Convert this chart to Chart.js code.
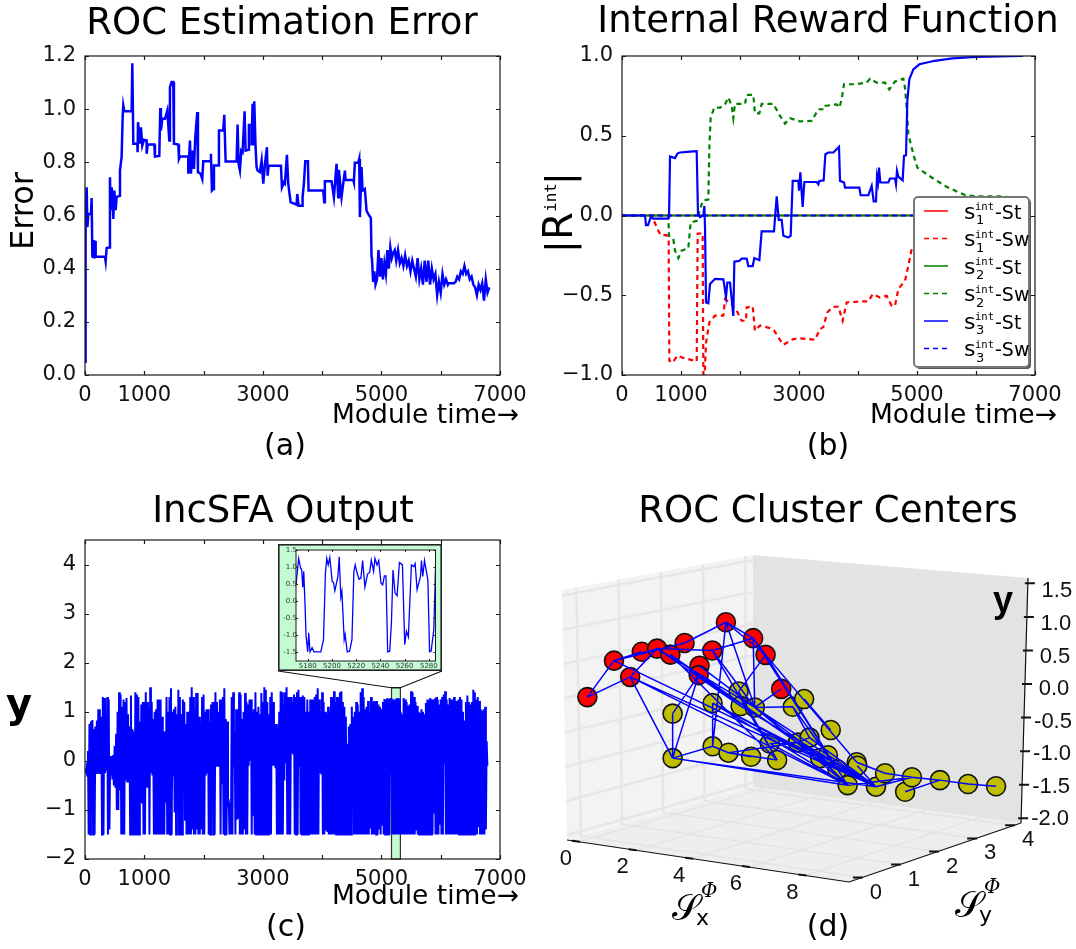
<!DOCTYPE html>
<html><head><meta charset="utf-8">
<script src="https://cdn.jsdelivr.net/npm/chart.js@4/dist/chart.umd.min.js"></script>
<style>
html,body{margin:0;padding:0;background:#fff;width:1076px;height:949px;overflow:hidden}
canvas{position:absolute;display:block}
</style></head><body>
<canvas id="a" width="564" height="470" style="left:0;top:0"></canvas>
<canvas id="b" width="596" height="470" style="left:530px;top:0"></canvas>
<canvas id="c" width="566" height="469" style="left:0;top:480px"></canvas>
<canvas id="d" width="596" height="469" style="left:530px;top:480px"></canvas>
<canvas id="inset" width="164" height="127" style="left:278px;top:544px"></canvas>
<script>
/* ---------- panel (a) ---------- */
const timeTicks = [0,1000,3000,5000,7000];
const rocError = [[0,.05],[5,.35],[10,.45],[15,.6],[28,.706],[40,.556],[56,.606],[101,.606],[112,.666],[124,.445],[152,.443],[152,.503],[180,.5],[180,.445],[337,.445],[348,.428],[365,.478],[410,.48],[421,.744],[433,.62],[450,.706],[467,.656],[478,.587],[495,.694],[517,.62],[534,.67],[590,.674],[590,.77],[618,.82],[635,.97],[646,1.014],[663,.992],[787,.992],[798,1.173],[815,.87],[882,.87],[888,.838],[894,.951],[927,.87],[944,.932],[966,.863],[995,.885],[1040,.882],[1040,.832],[1057,.867],[1169,.867],[1180,.822],[1253,.824],[1270,1.004],[1281,.92],[1304,.964],[1349,.964],[1388,.995],[1422,.882],[1433,1.083],[1461,1.102],[1489,1.102],[1500,.87],[1574,.867],[1585,.813],[1602,.822],[1742,.822],[1742,.757],[1770,.882],[1787,.757],[1815,.844],[1838,.775],[1860,.895],[1894,.989],[1905,.763],[1950,.757],[1978,.738],[1995,.804],[2119,.804],[2124,.832],[2141,.694],[2164,.7],[2175,.788],[2248,.788],[2259,.92],[2332,.92],[2349,.979],[2372,.803],[2557,.803],[2574,.942],[2591,.794],[2613,.769],[2636,.844],[2658,.838],[2692,.992],[2709,.844],[2754,.847],[2765,.94],[2810,.94],[2810,.863],[2827,1.02],[2838,.863],[2855,1.03],[2877,.857],[2894,.782],[2911,.769],[2950,.763],[2979,.807],[3007,.72],[3035,.794],[3069,.857],[3080,.75],[3097,.787],[3305,.787],[3322,.706],[3355,.725],[3372,.72],[3406,.828],[3428,.72],[3468,.65],[3569,.641],[3580,.681],[3603,.637],[3670,.637],[3670,.669],[3692,.72],[3715,.804],[3760,.804],[3771,.694],[4018,.694],[4035,.65],[4046,.729],[4158,.729],[4175,.706],[4198,.669],[4243,.794],[4271,.669],[4282,.772],[4327,.669],[4384,.769],[4395,.734],[4524,.734],[4535,.725],[4552,.798],[4608,.798],[4625,.813],[4637,.594],[4664,.782],[4681,.694],[4720,.7],[4749,.618],[4777,.606],[4822,.59],[4833,.443],[4840,.44],[4860,.35],[4880,.39],[4900,.34],[4925,.36],[4950,.47],[4975,.37],[5000,.44],[5025,.36],[5050,.42],[5075,.38],[5100,.47],[5125,.4],[5150,.48],[5175,.44],[5200,.46],[5225,.47],[5250,.43],[5280,.47],[5310,.42],[5340,.44],[5370,.41],[5400,.45],[5430,.41],[5460,.43],[5490,.39],[5520,.43],[5550,.4],[5580,.37],[5610,.44],[5640,.36],[5670,.4],[5700,.34],[5730,.43],[5760,.35],[5790,.43],[5820,.34],[5850,.4],[5880,.36],[5910,.38],[5940,.3],[5970,.35],[6000,.31],[6030,.38],[6060,.34],[6090,.36],[6120,.34],[6130,.345],[6220,.345],[6250,.35],[6280,.37],[6310,.36],[6340,.39],[6370,.38],[6400,.41],[6430,.38],[6460,.39],[6490,.36],[6520,.37],[6550,.34],[6580,.33],[6610,.3],[6640,.34],[6670,.32],[6700,.345],[6730,.28],[6760,.36],[6790,.31],[6820,.33]];

/* ---------- panel (b) ---------- */
const zeroLine = [[0,0],[6800,0]];
const s1Switch = [[0,0],[503,0],[616,-.096],[655,-.123],[757,-.123],[791,-.159],[802,-.91],[859,-.923],[938,-.879],[1040,-.893],[1266,-.914],[1283,-.113],[1367,-.113],[1379,-.994],[1400,-1],[1424,-.8],[1480,-.67],[1576,-.628],[1718,-.628],[1746,-.524],[1859,-.555],[1944,-.597],[2028,-.66],[2102,-.66],[2113,-.576],[2215,-.57],[2254,-.722],[2339,-.69],[2509,-.706],[2576,-.72],[2650,-.764],[2735,-.81],[2904,-.775],[3017,-.77],[3271,-.779],[3356,-.712],[3412,-.7],[3480,-.607],[3582,-.572],[3667,-.572],[3740,-.66],[3808,-.545],[4062,-.539],[4175,-.539],[4249,-.493],[4373,-.514],[4486,-.503],[4571,-.566],[4627,-.566],[4684,-.461],[4797,-.409],[4853,-.315],[4910,-.21],[5000,-.15],[5300,-.1],[6800,-.02]];
const s2Switch = [[0,0],[785,0],[797,-.127],[870,-.148],[898,-.22],[955,-.267],[1011,-.22],[1124,-.205],[1164,-.044],[1266,-.033],[1350,.07],[1379,.096],[1463,.1],[1480,.426],[1503,.614],[1565,.676],[1661,.676],[1746,.697],[1802,.74],[1859,.687],[1887,.61],[1915,.7],[2085,.7],[2113,.756],[2226,.756],[2254,.64],[2328,.64],[2367,.7],[2565,.7],[2678,.624],[2763,.576],[2848,.61],[3017,.59],[3215,.593],[3328,.666],[3424,.666],[3441,.687],[3639,.697],[3684,.676],[3723,.729],[3763,.823],[3966,.823],[4147,.833],[4204,.858],[4317,.833],[4458,.833],[4531,.79],[4627,.84],[4769,.858],[4797,.8],[4825,.676],[4853,.51],[4938,.384],[5006,.3],[5200,.25],[5500,.18],[5800,.13],[6000,.12],[6400,.12],[6800,.11]];
const s3Stay = [[0,0],[390,0],[407,-.06],[441,-.06],[486,-.0125],[531,-.02],[785,-.02],[797,-.0125],[814,.37],[898,.36],[944,.39],[983,.395],[1153,.4],[1266,.403],[1288,.01],[1322,-.01],[1379,0],[1396,.06],[1407,-.075],[1424,-.545],[1463,-.55],[1492,-.43],[1576,-.397],[1718,-.4],[1763,-.51],[1785,-.42],[1831,-.42],[1887,-.63],[1904,-.29],[1989,-.285],[2028,-.27],[2113,-.27],[2141,-.317],[2215,-.317],[2243,-.267],[2328,-.28],[2367,-.1],[2576,-.1],[2622,.12],[2656,-.027],[2706,-.027],[2735,-.127],[2819,-.138],[2859,-.127],[2893,.217],[2989,.217],[3000,.155],[3023,.27],[3062,.054],[3091,.21],[3300,.21],[3328,.196],[3345,.217],[3418,.22],[3447,.384],[3497,.395],[3582,.395],[3678,.43],[3695,.217],[3763,.207],[3780,.175],[4023,.175],[4045,.127],[4175,.127],[4232,.186],[4266,.088],[4305,.088],[4322,.242],[4339,.207],[4356,.3],[4379,.207],[4514,.207],[4543,.232],[4627,.232],[4644,.196],[4661,.28],[4684,.244],[4757,.22],[4780,.374],[4814,.378],[4836,.718],[4870,.854],[4938,.916],[5040,.948],[5300,.97],[5600,.985],[6000,.995],[6800,1]];
const rewardStates = ["1","1","2","2","3","3"];
const rewardActions = ["St","Sw","St","Sw","St","Sw"];

/* ---------- panel (c): one peak and one trough per 25 module-time steps ---------- */
const incsfaPeaks = [-.15,-.15,.2,.75,.8,.83,.65,.7,.82,1.05,1.05,.9,1.3,1.28,.92,1.3,1.25,.1,.1,.12,.3,.55,1,1.4,1.35,1.1,1.25,1.2,1.28,.95,.7,1.33,.65,.6,1.4,1.35,1.3,.8,1.15,1.2,1.2,1.4,1.2,1.1,1.5,1.2,.85,1,1.05,1.25,1.25,1.25,.9,.6,.6,1.3,1,1.3,1.48,1,1.05,1.1,.95,1.45,1.3,.95,1.25,1.2,.75,1,1,1.3,1.5,1.3,1.05,1.38,1.38,.9,.8,1.3,1.35,1,1.05,1.05,.8,1.15,1.2,1.2,1.4,1.2,1,1.25,1.25,1.3,
1.48,.85,.8,-.85,-.85,1.3,1.4,.6,1.05,1.05,1.4,1.35,.85,1,1.38,1.2,1.15,1.25,1.25,1,1.05,1.4,1,1.1,.95,1.38,1.2,1.5,1.45,1.2,.95,1.3,1.4,1.2,.75,.75,.65,1,1.42,1.4,1.15,1.4,1.5,1.3,1.3,1.3,1.2,1.35,1.3,1.4,1.45,1.3,1.3,1.33,1.3,1,1.25,1,1.25,1.25,1.25,1.3,1.35,1.48,1.25,1,1.4,1.2,1,.95,1.1,1,1.3,1.3,1.42,1.2,1.3,1.3,1.4,1.42,1.2,1.1,.9,.35,.7,.75,1.1,.9,1,1.2,1.15,1,1.4,1.48,1.3,
1.05,1.1,1.22,.98,1.3,1.2,1.22,1.2,1.22,1.15,1.1,1.05,1.2,1.26,1.25,1.28,1.26,1.28,1.27,1.25,1.25,1.27,1.28,1.27,1,.95,1.28,1.25,1.2,1.12,1.15,1.42,1.4,1.3,1.2,1.12,1,.98,1.05,1,.95,1.18,1.25,1.25,1.28,1.25,1.25,1.27,1.3,1.25,1.15,1.25,1.3,1.35,1.42,1.25,1.15,1.28,1.25,1.25,1.3,1.22,1.22,1.25,1.3,1.25,1,.82,1.2,1.33,1.2,1.15,1.2,1.45,1.4,1.25,1.3,1.22,1.05,1.02,1.05,1.1,.4];
const incsfaTroughs = [-.25,-.3,-1.5,-1.5,-.2,-1.5,-1.5,-.25,-.22,-.25,-.22,-1.5,-1.5,-.25,-.2,-1.5,-1.4,-.3,-.38,-.5,-.55,-1,-1,-.6,-1.5,-1.5,-1.5,-.4,-.42,-.4,-1.5,-1.5,-1.5,-1.5,-1.5,-1.5,-1.5,-.85,-.85,-1.5,-1.5,-.55,-.55,-1.5,-.25,-.3,-1.5,-1.5,-1.5,-1.5,-1.5,-1.5,-1.5,-1.5,-.85,-1.5,-1.5,-1.5,-1.5,-.3,-1.05,-1.5,-1,-1.5,-1.5,-1.5,-.1,-1.2,-1.5,-1.5,-1.5,-1.5,-1.4,-1.5,-1.5,-1.4,-1.5,-1.5,-1.4,-1.5,-1.5,-.3,-.25,-1.5,-1.5,-.28,-1.5,-1.5,-.1,-.1,-.1,-1.5,-.45,-1.5,
-1.5,-1.5,-.88,-1.5,-1.5,-1.5,-.12,-1.5,-1.2,-1.18,-1.5,-1.5,-1.5,-1.4,-1.5,-1.5,-.1,0,-1.5,-1.1,-1.5,-1.5,-1.5,-1.5,-1.5,-1.5,-1.5,-1.5,-1.5,-1.5,-1.5,-1.5,-.1,-.1,-.15,-1.5,-1.5,-1.5,-1.5,-1.5,-.4,-.05,-1.5,-1.5,-1.5,.15,.15,-1.5,-1.5,-1.5,-.1,-1.5,-1.5,-1.5,-1.5,-1.5,-1.5,-1.5,-1.5,-1.5,-1.5,-1.5,-1.5,-1.5,-.25,-.28,-1.5,-1.5,-1.42,-1.45,-1.5,-1.5,-1.5,-1.5,-1.5,-1.5,-1.5,-1.5,-1.5,-1.5,-1.5,-1.5,-1.5,-1.5,-1.5,-1.5,-.15,-1.5,-1.5,-1.5,-1.5,-1.5,-1.5,-1.5,-1.5,
-1.5,-1.5,-1.5,-1.38,-1.5,-1.5,-1.5,-1.5,-1.5,-1.38,-1.5,-1.3,-1.5,-1.5,-1.5,-1.5,-1.5,-.26,-1.5,-1.5,-1.5,-1.5,-1.5,-1.5,-1.5,-1.5,-1.5,-1.5,-1.5,-1.5,-1.5,-1.5,-1.5,-1.5,-1.42,-1.5,-1.5,-1.5,-1.5,-1.5,-1.5,-1.5,-1.5,-1.5,-1.5,-1.5,-1.05,-1.5,-1.5,-1.5,-1.3,-1.5,-1.5,-.06,-1.5,-1.5,-1.5,-1.5,-1.5,-1.5,-1.5,-1.5,-1.5,-1.5,-1.5,-1.5,-1.5,-1.5,-1.5,-1.5,-1.5,-1.5,-1.5,-1.5,-1.5,-1.5,-1.35,-1.5,-1.5,-1.5,-1.5,-1.4,-.1];
const insetSeries = [[5170.3,.47],[5172.5,1.25],[5174.2,.96],[5175,.93],[5175.9,.4],[5176.7,.87],[5177.8,-.16],[5178.6,-1.04],[5180,-1.5],[5180.8,-.94],[5181.9,-1.5],[5183.6,-1.38],[5185.2,-1.5],[5190.8,-1.5],[5193,-1.14],[5194.6,.82],[5195.7,1.25],[5196.9,1.06],[5198.2,1.28],[5200.2,.57],[5201.3,.54],[5202.4,.3],[5204.9,.72],[5206,1.3],[5207.3,.11],[5208.2,.28],[5210.1,-1.14],[5210.9,-.99],[5212.6,-1.5],[5214.5,-1.48],[5216.5,-1.14],[5218.1,.87],[5219.2,1.06],[5220.1,.91],[5222.3,.64],[5223.9,.67],[5225.3,1.19],[5227.2,.41],[5229.4,.79],[5231.1,.84],[5232.5,1.2],[5234.4,.87],[5235.5,1.25],[5237.2,1.06],[5238.6,1.19],[5240.5,.52],[5241.9,.47],[5243.3,.74],[5244.6,.74],[5246,-1.5],[5247.7,-1.48],[5249.1,-.65],[5250.4,.91],[5252.1,.23],[5253.8,.15],[5255.7,1.13],[5258.2,1.06],[5260.1,-1.29],[5261.5,-.89],[5263.1,-1.06],[5265.6,1.06],[5267.6,1.01],[5268.7,1.1],[5270.3,.33],[5273.1,.72],[5273.9,1.19],[5275,.72],[5276.4,1.19],[5279.2,.62],[5280.6,-1.5],[5281.9,-1.48],[5284.1,-.85],[5285.5,.96]];

/* ---------- panel (d): 14 red centres, then 29 yellow centres ---------- */
const clusterSx = [-.16,.78,.01,.42,.96,1.43,.59,1.57,2.05,1.67,2.11,2.46,2.43,2.66,
1.51,1.58,2.5,2.57,3.07,3.07,3.47,4.41,1.51,1.58,2.14,2.94,3.6,3.86,3.25,3.66,4.04,4.31,4.65,5.01,5.33,5.35,6.01,6.33,7.04,7.28,8.27,7.92,8.91];
const clusterSy = [0,0,1,1,1,1,2,2,2,3,3,1,1,3,
1,2,2,2,2,3,3,3,1,2,2,2,2,2,3,3,3,3,3,3,3,3,3,3,3,3,3,4,4];
const clusterY = [.09,.69,.21,.61,.69,.63,.56,.51,.96,.51,.29,.53,.39,-.18,
-.24,-.27,-.04,-.25,-.24,-.42,-.28,-.68,-.9,-.91,-.97,-.98,-.74,-.97,-.94,-.84,-1.12,-1.06,-1.25,-1.46,-1.1,-1.15,-1.42,-1.2,-1.43,-1.2,-1.18,-1.45,-1.42];
const clusterRedCount = 14;
const clusterEdges = [[0,1],[0,2],[1,3],[1,4],[1,6],[2,4],[6,8],[4,7],[7,9],[8,9],[8,10],[9,10],[2,22],[2,33],[2,36],[1,36],[12,14],[12,22],[14,22],[15,23],[22,23],[23,24],[24,25],[24,28],[26,28],[28,29],[23,8],[27,16],[27,7],[8,18],[9,18],[10,16],[13,18],[18,19],[19,32],[10,32],[9,32],[9,33],[10,34],[20,21],[29,19],[5,30],[5,17],[4,17],[5,27],[11,32],[12,30],[4,18],[7,18],[17,36],[18,33],[18,36],[15,33],[15,36],[15,32],[22,33],[22,36],[26,33],[28,36],[29,36],[30,33],[31,36],[32,36],[34,37],[35,36],[36,39],[33,39],[37,39],[39,40],[38,40],[40,41],[41,42],[24,27]];
const ticksSx = [0,2,4,6,8];
const ticksSy = [0,1,2,3,4];
const ticksY3d = [-2,-1.5,-1,-.5,0,.5,1,1.5];

/* ---------- helpers ---------- */
Chart.defaults.font.family = "'DejaVu Sans'";
Chart.defaults.color = "#111";
const BLUE="#0000ff",RED="#ff0000",GREEN="#008000";
const xy = a => a.map(p=>({x:p[0],y:p[1]}));
const minus = s => String(s).replace("-","\u2212");

const frameTicks = {id:"frameTicks",afterDatasetsDraw(ch,_,o){
  if(!o.len) return;
  const {ctx,chartArea:A,scales:{x,y}}=ch; ctx.save();
  ctx.strokeStyle="#1a1a1a"; ctx.lineWidth=o.lw||1.2;
  ctx.strokeRect(A.left,A.top,A.right-A.left,A.bottom-A.top);
  ctx.beginPath();
  x.ticks.forEach(t=>{const p=Math.round(x.getPixelForValue(t.value))+.5;
    ctx.moveTo(p,A.top);ctx.lineTo(p,A.top+o.len);ctx.moveTo(p,A.bottom);ctx.lineTo(p,A.bottom-o.len);});
  y.ticks.forEach(t=>{const p=Math.round(y.getPixelForValue(t.value))+.5;
    ctx.moveTo(A.left,p);ctx.lineTo(A.left+o.len,p);ctx.moveTo(A.right,p);ctx.lineTo(A.right-o.len,p);});
  ctx.stroke(); ctx.restore();
}};
const decor = {id:"decor",afterDraw(ch,_,o){
  const ctx=ch.ctx,L=ch.canvas.offsetLeft,T=ch.canvas.offsetTop;
  (o.items||[]).forEach(i=>{ctx.save();ctx.fillStyle=i.color||"#000";ctx.font=i.font;
    ctx.textAlign=i.align||"left";ctx.textBaseline=i.base||"alphabetic";
    ctx.translate(i.x-L,i.y-T); if(i.rot) ctx.rotate(i.rot);
    ctx.fillText(i.text,0,0);ctx.restore();});
}};
/* the title is centred over the whole canvas, not only over the plot */
const wideTitle = {id:"wideTitle",afterLayout(ch){ if(ch.titleBlock){ch.titleBlock.left=0;ch.titleBlock.right=ch.width;} }};
Chart.register(frameTicks,decor,wideTitle);

function lineSet(points,color,dash,width,order){
  return {data:xy(points),borderColor:color,borderWidth:width||2,borderDash:dash||[],
    showLine:true,pointRadius:0,tension:0,fill:false,order:order||0,parsing:false,normalized:true};
}
function timeChart(id,cfg){
  return new Chart(document.getElementById(id),{type:"scatter",data:{datasets:cfg.sets},
   plugins:cfg.plugins||[],
   options:{responsive:false,animation:false,events:[],devicePixelRatio:1,
    layout:{autoPadding:false,padding:{left:0,right:cfg.right,top:0,bottom:0}},
    plugins:{legend:{display:false},tooltip:{enabled:false},
      title:{display:true,text:cfg.title,color:"#000",font:{size:37,weight:"normal"},padding:cfg.titlePad},
      frameTicks:{len:4},decor:{items:cfg.items}},
    scales:{
      x:{type:"linear",min:0,max:7000,grid:{display:false},border:{display:false},
         afterFit:s=>{s.height=cfg.xh},
         ticks:{stepSize:1000,autoSkip:false,maxRotation:0,padding:0,color:"#111",font:{size:21},
           callback:v=>timeTicks.includes(v)?String(v):""}},
      y:{type:"linear",min:cfg.ymin,max:cfg.ymax,grid:{display:false},border:{display:false},
         afterFit:s=>{s.width=cfg.yw},
         ticks:{stepSize:cfg.ystep,autoSkip:false,includeBounds:false,padding:1,color:"#111",font:{size:21},
           callback:v=>minus(v.toFixed(cfg.ydec))}}
    }}});
}
const mt = (x,y)=>({text:"Module time\u2192",x,y,font:"26.5px 'DejaVu Sans'"});
const cap = (t,x,y)=>({text:t,x,y,font:"30px 'DejaVu Sans'",align:"center",base:"middle"});

/* ---------- (a) ---------- */
timeChart("a",{title:"ROC Estimation Error",titlePad:{top:2,bottom:9.6},right:64,yw:85,xh:95,
  ymin:0,ymax:1.2,ystep:.2,ydec:1,
  sets:[lineSet(rocError,BLUE,[],2.5)],
  items:[mt(332,423),cap("(a)",285,447),
   {text:"Error",x:33,y:211,font:"32px 'DejaVu Sans'",align:"center",rot:-Math.PI/2}]});

/* ---------- (b) ---------- */
const rewardLegend = {id:"rewardLegend",afterDraw(ch){
  const {ctx}=ch,L=ch.canvas.offsetLeft;
  const sets=ch.data.datasets;
  ctx.save();
  const bx=914-L,by=197,bw=115,bh=170;
  ctx.fillStyle="#555";ctx.beginPath();ctx.roundRect(bx+2,by+2,bw,bh,4);ctx.fill();
  ctx.fillStyle="#fff";ctx.strokeStyle="#777";ctx.lineWidth=2;ctx.beginPath();ctx.roundRect(bx,by,bw,bh,4);ctx.fill();ctx.stroke();
  rewardActions.forEach((act,i)=>{
    const y=211+i*27.5;
    ctx.strokeStyle=sets[i].borderColor;ctx.lineWidth=1.5;ctx.setLineDash(sets[i].borderDash);
    ctx.beginPath();ctx.moveTo(924-L,y);ctx.lineTo(948-L,y);ctx.stroke();ctx.setLineDash([]);
    ctx.fillStyle="#000";ctx.textAlign="left";ctx.textBaseline="alphabetic";
    ctx.font="22px 'DejaVu Sans'";ctx.fillText("s",964-L,y+7.5);
    ctx.font="10.5px 'DejaVu Sans Mono'";ctx.fillText("int",975-L,y-1);
    ctx.font="13px 'DejaVu Sans'";ctx.fillText(rewardStates[i],976-L,y+13);
    ctx.font="19px 'DejaVu Sans'";ctx.fillText("-"+act,995-L,y+7.5);
  });
  ctx.restore();
}};
timeChart("b",{title:"Internal Reward Function",titlePad:{top:0,bottom:11.6},right:91,yw:92,xh:95,
  ymin:-1,ymax:1,ystep:.5,ydec:1,plugins:[rewardLegend],
  sets:[
    lineSet(zeroLine,RED,[],1.5,6),
    lineSet(s1Switch,RED,[5,4],2.2,5),
    lineSet(zeroLine,GREEN,[],2.2,4),
    lineSet(s2Switch,GREEN,[5,4],2.2,3),
    lineSet(s3Stay,BLUE,[],2.2,2),
    lineSet(zeroLine,BLUE,[5,4],2.2,1)],
  items:[mt(870,423),cap("(b)",828,447),
   {text:"|",x:572,y:253,font:"38px 'DejaVu Sans'",rot:-Math.PI/2},
   {text:"R",x:572,y:240,font:"40px 'DejaVu Sans'",rot:-Math.PI/2},
   {text:"int",x:556,y:212,font:"16px 'DejaVu Sans Mono'",rot:-Math.PI/2},
   {text:"|",x:572,y:185,font:"38px 'DejaVu Sans'",rot:-Math.PI/2}]});

/* ---------- (c) ---------- */
const incsfaPoints = [];
incsfaPeaks.forEach((v,i)=>{incsfaPoints.push([25*i,v]);incsfaPoints.push([25*i+12,incsfaTroughs[i]]);});
const bandStart=5170,bandEnd=5320,bandTop=1.49;
const zoomMark = {id:"zoomMark",
 beforeDatasetsDraw(ch){
  const {ctx,scales:{x,y}}=ch;const a=x.getPixelForValue(bandStart),b=x.getPixelForValue(bandEnd),t=y.getPixelForValue(bandTop),B=ch.chartArea.bottom;
  ctx.save();ctx.fillStyle="#c4fbd2";ctx.fillRect(a,t,b-a,B-t);ctx.strokeStyle="#333";ctx.lineWidth=1.2;ctx.strokeRect(a,t,b-a,B-t);ctx.restore();
 },
 afterDatasetsDraw(ch){
  const {ctx,scales:{x,y}}=ch;const a=x.getPixelForValue(bandStart),b=x.getPixelForValue(bandEnd),t=y.getPixelForValue(bandTop);
  const T=ch.canvas.offsetTop;
  ctx.save();ctx.strokeStyle="#111";ctx.lineWidth=1.2;ctx.beginPath();
  ctx.moveTo(278,671-T);ctx.lineTo(a,t);ctx.lineTo(b,t);ctx.lineTo(442,671-T);ctx.stroke();ctx.restore();
 }};
timeChart("c",{title:"IncSFA Output",titlePad:{top:10,bottom:5.6},right:66,yw:85,xh:90,
  ymin:-2,ymax:4.5,ystep:1,ydec:0,plugins:[zoomMark],
  sets:[lineSet(incsfaPoints,BLUE,[],2)],
  items:[mt(332,904),cap("(c)",286,928),
   {text:"y",x:19,y:717,font:"bold 40px 'DejaVu Sans'",align:"center"}]});

/* inset */
const insetFrame = {id:"insetFrame",beforeDraw(ch){
  const {ctx,width:w,height:h}=ch;ctx.save();ctx.fillStyle="#c4fbd2";ctx.fillRect(0,0,w,h);ctx.strokeStyle="#222";ctx.lineWidth=1.6;ctx.strokeRect(.8,.8,w-1.6,h-1.6);
  const A=ch.chartArea;ctx.fillStyle="#fff";ctx.fillRect(A.left,A.top,A.right-A.left,A.bottom-A.top);ctx.restore();
},afterDraw(ch){
  const {ctx,chartArea:A,scales:{x,y}}=ch;ctx.save();ctx.fillStyle="#333";ctx.font="7px 'DejaVu Sans'";ctx.textBaseline="middle";
  ctx.textAlign="center";x.ticks.forEach(t=>ctx.fillText(String(t.value),x.getPixelForValue(t.value),A.bottom+5));
  ctx.textAlign="right";y.ticks.forEach(t=>ctx.fillText(t.value.toFixed(1),A.left+1,y.getPixelForValue(t.value)));
  ctx.restore();
}};
new Chart(document.getElementById("inset"),{type:"scatter",data:{datasets:[lineSet(insetSeries,BLUE,[],1.3)]},plugins:[insetFrame],
 options:{responsive:false,animation:false,events:[],devicePixelRatio:1,
  layout:{autoPadding:false,padding:{left:0,right:6.5,top:6,bottom:0}},
  plugins:{legend:{display:false},tooltip:{enabled:false},frameTicks:{len:2,lw:1}},
  scales:{
   x:{type:"linear",min:5170.3,max:5285.5,grid:{display:false},border:{display:false},afterFit:s=>{s.height=10},
      ticks:{display:false,stepSize:20,includeBounds:false,autoSkip:false}},
   y:{type:"linear",min:-1.77,max:1.5,grid:{display:false},border:{display:false},afterFit:s=>{s.width=18},
      ticks:{display:false,stepSize:.5,includeBounds:false,autoSkip:false}}
  }}});

/* ---------- (d) ---------- */
/* box corners of the 3-D view, in view units */
const floorC=[[567,840],[849,882],[1021,823],[753,787]];
const topC=[[562,590],[855,610],[1028,578],[753,555]];
const lerp=(a,b,t)=>a+(b-a)*t;
function boxPoint(sx,sy,z){
  const u=(sx+.42)/9.96,v=(sy+.34)/4.52,w=(z+2.07)/3.65;
  const bil=(C,k)=>lerp(lerp(C[0][k],C[1][k],u),lerp(C[3][k],C[2][k],u),v);
  return [lerp(bil(floorC,0),bil(topC,0),w),lerp(bil(floorC,1),bil(topC,1),w)];
}
function viewPoint(sx,sy,z){
  return {x:591.9+28.3*sx+38*sy,y:703.85+4.25*sx-12.8*sy-67.4*z};
}
const clusterPts=clusterSx.map((s,i)=>viewPoint(s,clusterSy[i],clusterY[i]));
const edgePts=[];
clusterEdges.forEach(e=>{edgePts.push(clusterPts[e[0]],clusterPts[e[1]],{x:NaN,y:NaN});});
const SXMIN=-.42,SXMAX=9.54,SYMIN=-.34,SYMAX=4.18,ZMIN=-2.07,ZMAX=1.58;
const box3d = {id:"box3d",beforeDatasetsDraw(ch){
  const {ctx,scales:{x,y}}=ch;
  const px=p=>[x.getPixelForValue(p[0]),y.getPixelForValue(p[1])];
  const poly=(pts,fill)=>{ctx.fillStyle=fill;ctx.beginPath();pts.map(px).forEach((p,i)=>i?ctx.lineTo(p[0],p[1]):ctx.moveTo(p[0],p[1]));ctx.closePath();ctx.fill();};
  const seg=(a,b)=>{const A=px(a),B=px(b);ctx.moveTo(A[0],A[1]);ctx.lineTo(B[0],B[1]);};
  ctx.save();
  poly([boxPoint(SXMIN,SYMIN,ZMIN),boxPoint(SXMIN,SYMIN,ZMAX),boxPoint(SXMIN,SYMAX,ZMAX),boxPoint(SXMIN,SYMAX,ZMIN)],"#f3f3f3");
  poly([boxPoint(SXMIN,SYMAX,ZMIN),boxPoint(SXMIN,SYMAX,ZMAX),boxPoint(SXMAX,SYMAX,ZMAX),boxPoint(SXMAX,SYMAX,ZMIN)],"#e3e3e3");
  poly([boxPoint(SXMIN,SYMIN,ZMIN),boxPoint(SXMIN,SYMAX,ZMIN),boxPoint(SXMAX,SYMAX,ZMIN),boxPoint(SXMAX,SYMIN,ZMIN)],"#eeeeee");
  ctx.strokeStyle="#e6e6e6";ctx.lineWidth=2.5;ctx.beginPath();
  ticksSy.forEach(s=>{seg(boxPoint(SXMIN,s,ZMIN),boxPoint(SXMIN,s,ZMAX));});
  ticksY3d.forEach(z=>{seg(boxPoint(SXMIN,SYMIN,z),boxPoint(SXMIN,SYMAX,z));});
  ctx.stroke();
  ctx.strokeStyle="#e4e4e4";ctx.lineWidth=1.6;ctx.beginPath();
  ticksSx.forEach(s=>{seg(boxPoint(s,SYMIN,ZMIN),boxPoint(s,SYMAX,ZMIN));});
  ticksSy.forEach(s=>{seg(boxPoint(SXMIN,s,ZMIN),boxPoint(SXMAX,s,ZMIN));});
  ctx.stroke();
  ctx.strokeStyle="#111";ctx.lineWidth=1.2;ctx.beginPath();
  seg(boxPoint(SXMIN,SYMIN,ZMIN),boxPoint(SXMAX,SYMIN,ZMIN));
  seg(boxPoint(SXMAX,SYMIN,ZMIN),boxPoint(SXMAX,SYMAX,ZMIN));
  seg(boxPoint(SXMAX,SYMAX,ZMIN),boxPoint(SXMAX,SYMAX,ZMAX));
  ctx.stroke();
  ctx.lineWidth=2;ctx.beginPath();
  ticksSx.forEach(s=>{const p=boxPoint(s,SYMIN,ZMIN);seg([p[0]-7,p[1]-1],[p[0]+1,p[1]]);});
  ticksSy.forEach(s=>{const p=boxPoint(SXMAX,s,ZMIN);seg([p[0]-9,p[1]],[p[0]+1,p[1]]);});
  ticksY3d.forEach(z=>{const p=boxPoint(SXMAX,SYMAX,z);seg([p[0]-3,p[1]],[p[0]+7,p[1]]);});
  ctx.stroke();
  ctx.fillStyle="#111";ctx.font="22px 'Liberation Sans'";ctx.textAlign="center";ctx.textBaseline="middle";
  ticksSx.forEach(s=>{const p=px(boxPoint(s,SYMIN,ZMIN));ctx.fillText(String(s),p[0]-13,p[1]+17);});
  ticksSy.forEach(s=>{const p=px(boxPoint(SXMAX,s,ZMIN));ctx.fillText(String(s),p[0]+14,p[1]+15);});
  ticksY3d.forEach(z=>{const p=px(boxPoint(SXMAX,SYMAX,z));ctx.fillText(z.toFixed(1),p[0]+29,p[1]+1+(z+2)*2);});
  ctx.restore();
}};
new Chart(document.getElementById("d"),{type:"scatter",plugins:[box3d],
 data:{datasets:[
  {data:edgePts,showLine:true,borderColor:BLUE,borderWidth:1.5,pointRadius:0,spanGaps:false,order:1,clip:false},
  {data:clusterPts,showLine:false,pointRadius:9.5,borderWidth:1.6,pointBorderColor:"#111",order:2,clip:false,
   pointBackgroundColor:clusterPts.map((p,i)=>i<clusterRedCount?RED:"#bfbf00")}]},
 options:{responsive:false,animation:false,events:[],devicePixelRatio:1,
  layout:{autoPadding:false,padding:0},
  plugins:{legend:{display:false},tooltip:{enabled:false},
   title:{display:true,text:"ROC Cluster Centers",color:"#000",font:{size:37,weight:"normal"},padding:{top:10,bottom:5.6}},
   decor:{items:[cap("(d)",828,928),
    {text:"y",x:1003,y:612,font:"bold 36px 'Liberation Sans'",align:"center"},
    {text:"\u{1D4AE}",x:672,y:920,font:"36px 'DejaVu Serif','DejaVu Sans'"},
    {text:"x",x:696,y:925,font:"22px 'DejaVu Sans'"},
    {text:"\u03A6",x:701,y:897,font:"italic 20px 'DejaVu Serif'"},
    {text:"\u{1D4AE}",x:955,y:917,font:"36px 'DejaVu Serif','DejaVu Sans'"},
    {text:"y",x:979,y:922,font:"22px 'DejaVu Sans'"},
    {text:"\u03A6",x:984,y:893,font:"italic 20px 'DejaVu Serif'"}]}},
  scales:{x:{type:"linear",display:false,min:530,max:1126},
          y:{type:"linear",display:false,min:540,max:949,reverse:true}}}});
</script></body></html>
